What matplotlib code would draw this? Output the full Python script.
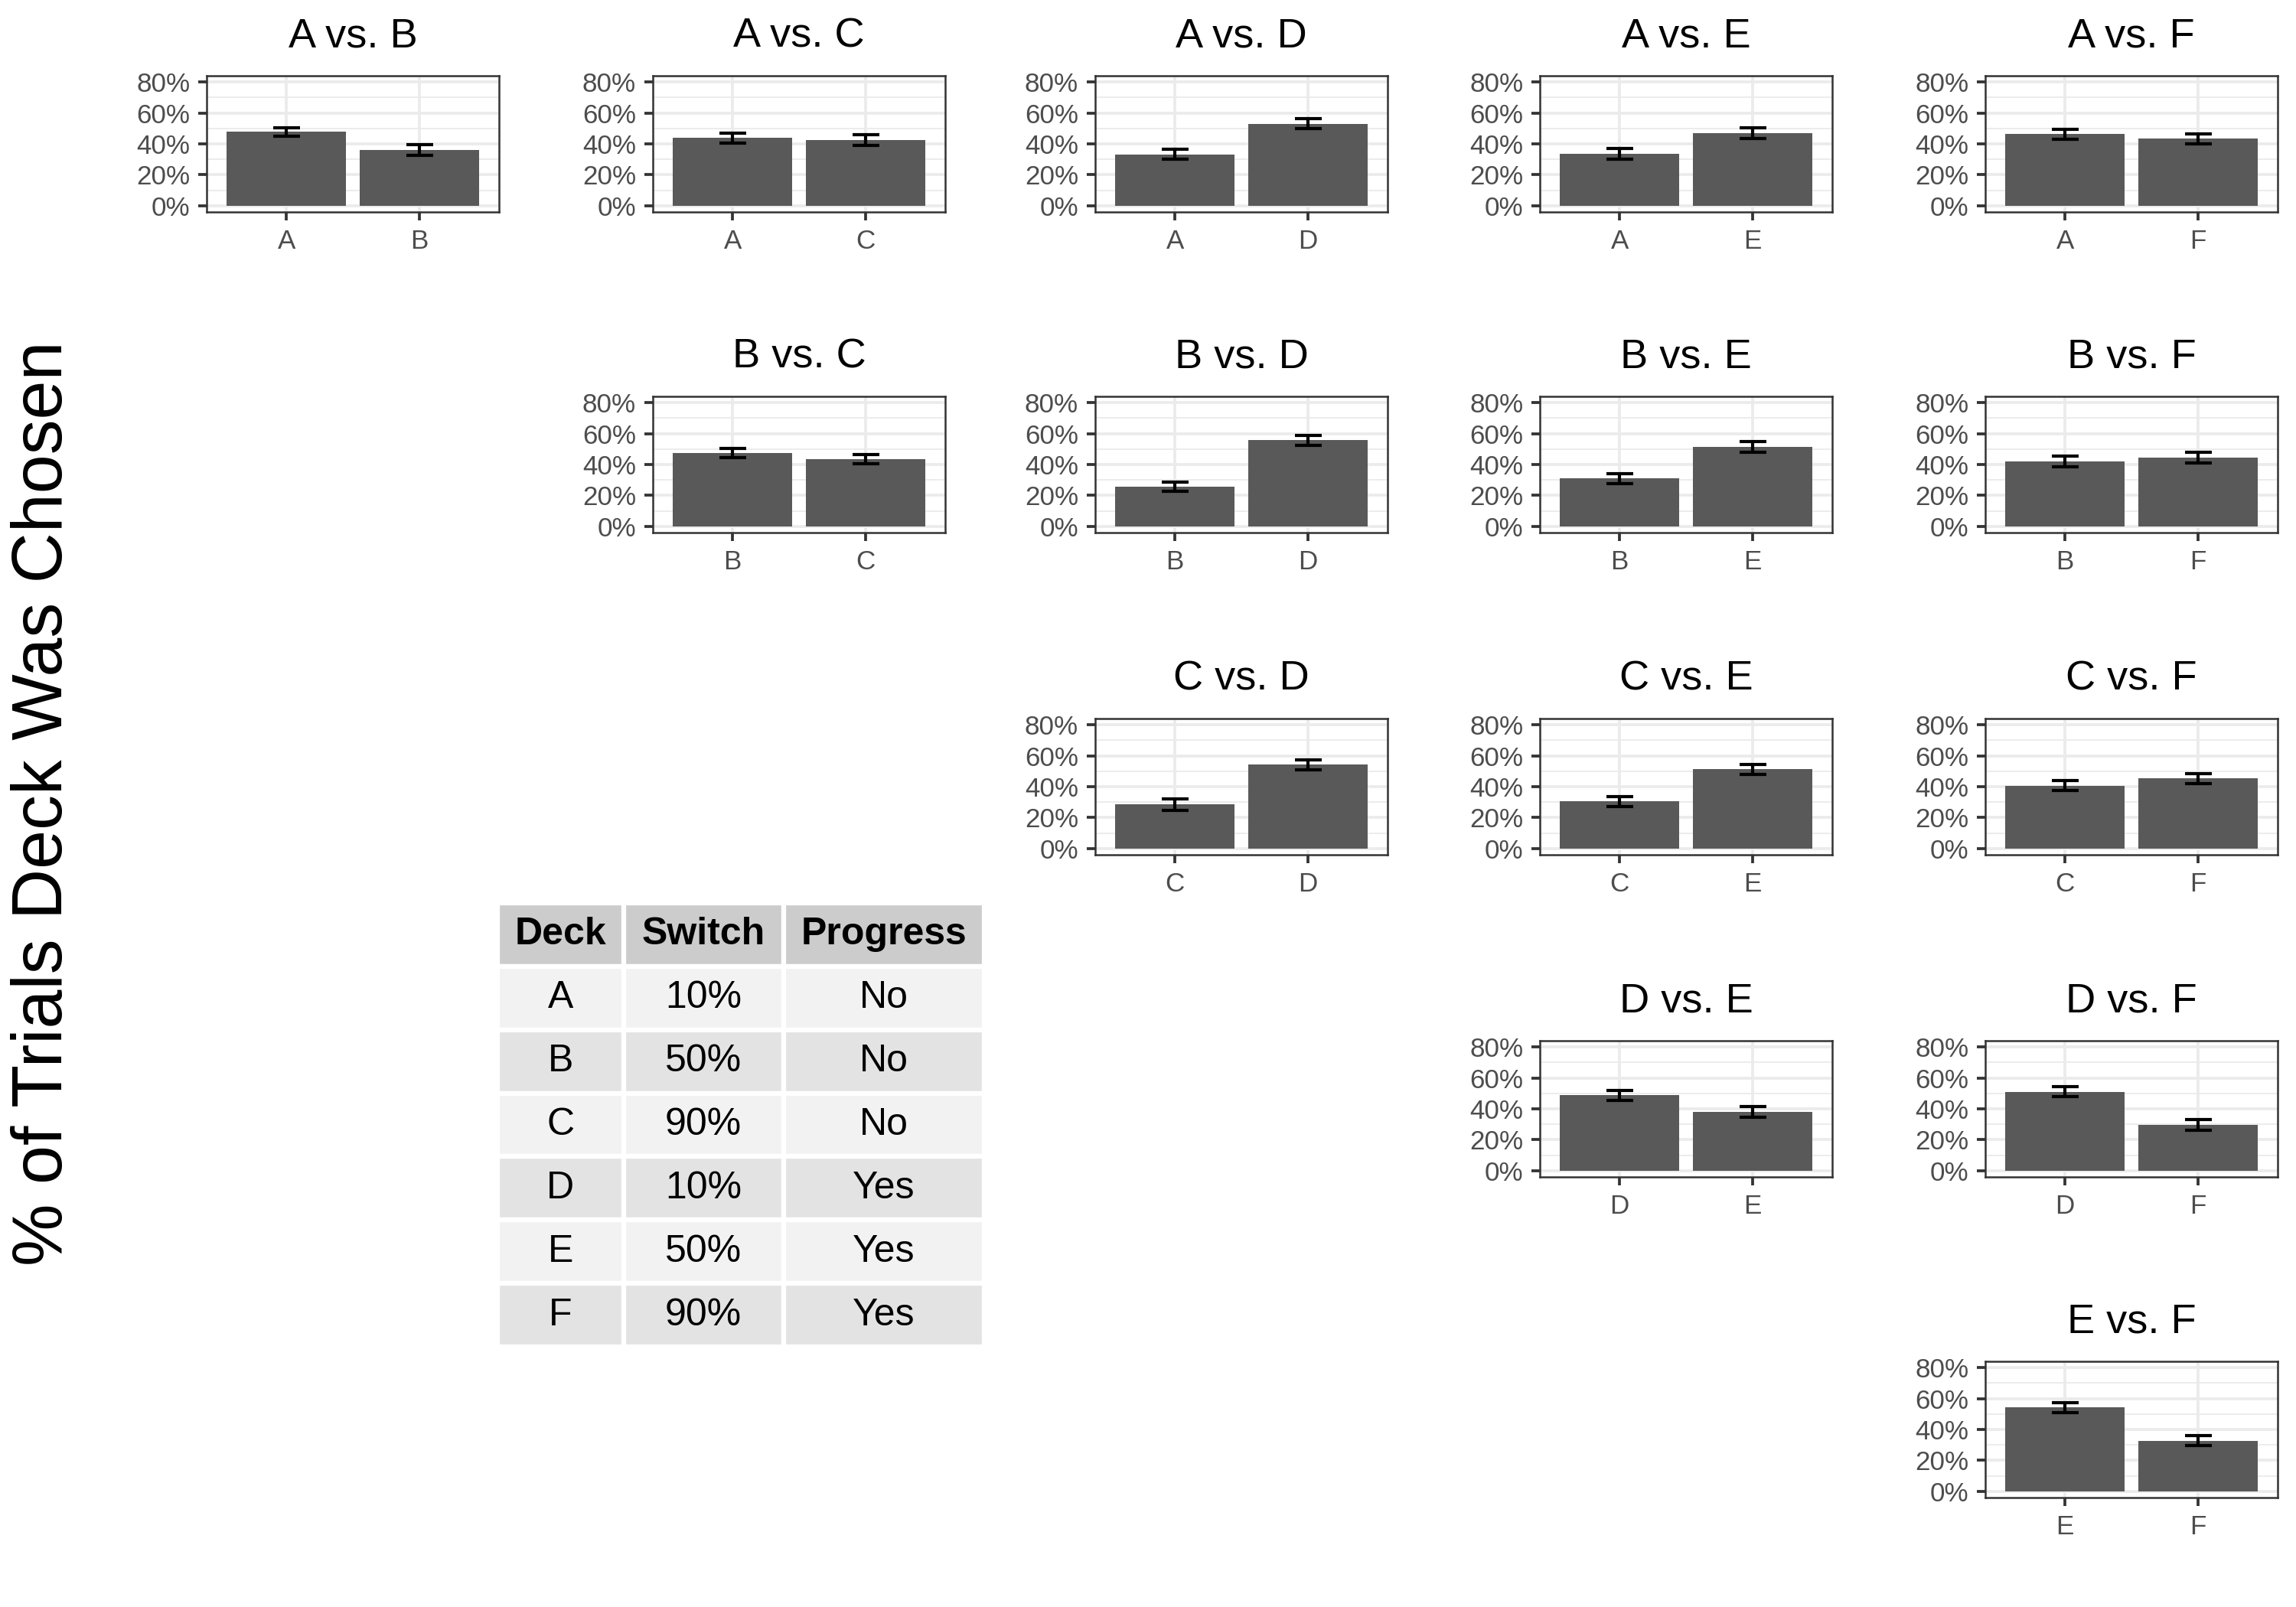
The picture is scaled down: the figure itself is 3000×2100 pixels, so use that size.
import matplotlib.pyplot as plt
from matplotlib.patches import Rectangle
from matplotlib.ticker import FixedLocator

plt.rcParams['font.family'] = ['Liberation Sans', 'DejaVu Sans']

decks = ["A", "B", "C", "D", "E", "F"]

# pairs in order of the upper triangle, row by row
pair_left = ["A", "A", "A", "A", "A", "B", "B", "B", "B", "C", "C", "C", "D", "D", "E"]
pair_right = ["B", "C", "D", "E", "F", "C", "D", "E", "F", "D", "E", "F", "E", "F", "F"]

# % of trials each deck was chosen, and error bar half-widths
left_pct = [47.8, 43.9, 33.2, 33.7, 46.3, 47.3, 25.5, 30.9, 42.0, 28.4, 30.4, 40.6, 48.7, 51.1, 54.1]
right_pct = [36.2, 42.4, 53.1, 46.8, 43.4, 43.5, 55.6, 51.2, 44.4, 54.1, 51.2, 45.4, 38.1, 29.8, 32.8]
left_err = [2.8, 3.2, 3.1, 3.5, 3.2, 3.0, 3.0, 3.4, 3.5, 3.5, 3.3, 3.3, 3.4, 3.3, 3.4]
right_err = [3.5, 3.4, 3.2, 3.5, 3.2, 3.1, 3.2, 3.5, 3.4, 3.0, 3.3, 3.2, 3.4, 3.5, 3.4]

# deck description table
table_cols = ["Deck", "Switch", "Progress"]
table_switch = ["10%", "50%", "90%", "10%", "50%", "90%"]
table_progress = ["No", "No", "No", "Yes", "Yes", "Yes"]

W, H = 3000, 2100
fig = plt.figure(figsize=(10, 7), dpi=300)

col_left = [270, 853, 1431, 2012, 2594]
row_top = [99, 518, 939, 1360, 1779]
pw, ph = 382, 178

def panel(ax, labels, vals, errs):
    ax.set_xlim(0.4, 2.6)
    ax.set_ylim(-4, 84)
    ax.set_facecolor("white")
    ax.yaxis.set_major_locator(FixedLocator([0, 20, 40, 60, 80]))
    ax.yaxis.set_minor_locator(FixedLocator([10, 30, 50, 70]))
    ax.grid(which="major", color="#EBEBEB", lw=0.9, zorder=0)
    ax.grid(which="minor", axis="y", color="#EBEBEB", lw=0.45, zorder=0)
    ax.set_axisbelow(True)
    ax.bar([1, 2], vals, width=0.9, color="#595959", zorder=2)
    ax.errorbar([1, 2], vals, yerr=errs, fmt="none", ecolor="black",
                elinewidth=1.0, capsize=4.2, capthick=1.0, zorder=3)
    ax.set_xticks([1, 2])
    ax.set_xticklabels(labels)
    ax.set_yticklabels(["0%", "20%", "40%", "60%", "80%"])
    ax.tick_params(which="major", length=2.75, width=0.9, color="#333333",
                   labelsize=8.4, labelcolor="#4D4D4D", pad=2.5)
    ax.tick_params(which="minor", length=0)
    for s in ax.spines.values():
        s.set_color("#333333")
        s.set_linewidth(0.6)

k = 0
for i in range(5):
    for j in range(i, 5):
        x0 = col_left[j]
        y0 = row_top[i]
        ax = fig.add_axes([x0 / W, 1 - (y0 + ph) / H, pw / W, ph / H])
        panel(ax, [pair_left[k], pair_right[k]],
              [left_pct[k], right_pct[k]], [left_err[k], right_err[k]])
        ax.set_title(pair_left[k] + " vs. " + pair_right[k], fontsize=13, pad=9)
        k += 1

fig.text(0.019, 0.50, "% of Trials Deck Was Chosen", rotation=90,
         fontsize=22, ha="center", va="center")

# table
tx0, tx1, ty0, ty1 = 650, 1286, 1180, 1760
tax = fig.add_axes([tx0 / W, 1 - ty1 / H, (tx1 - tx0) / W, (ty1 - ty0) / H])
tax.set_xlim(0, 332)
tax.set_ylim(7, 0)
tax.axis("off")
col_edges = [0, 86, 195, 332]
rows = [table_cols] + [[decks[r], table_switch[r], table_progress[r]] for r in range(6)]
for r, row in enumerate(rows):
    if r == 0:
        bg = "#CCCCCC"
    elif r % 2 == 1:
        bg = "#F2F2F2"
    else:
        bg = "#E3E3E3"
    for c, txt in enumerate(row):
        tax.add_patch(Rectangle((col_edges[c], r), col_edges[c + 1] - col_edges[c], 1,
                                facecolor=bg, edgecolor="white", lw=1.5))
        tax.text((col_edges[c] + col_edges[c + 1]) / 2, r + 0.5, txt,
                 ha="center", va="center", fontsize=12,
                 fontweight="bold" if r == 0 else "normal")

fig.savefig("out.png", dpi=300, facecolor="white")
